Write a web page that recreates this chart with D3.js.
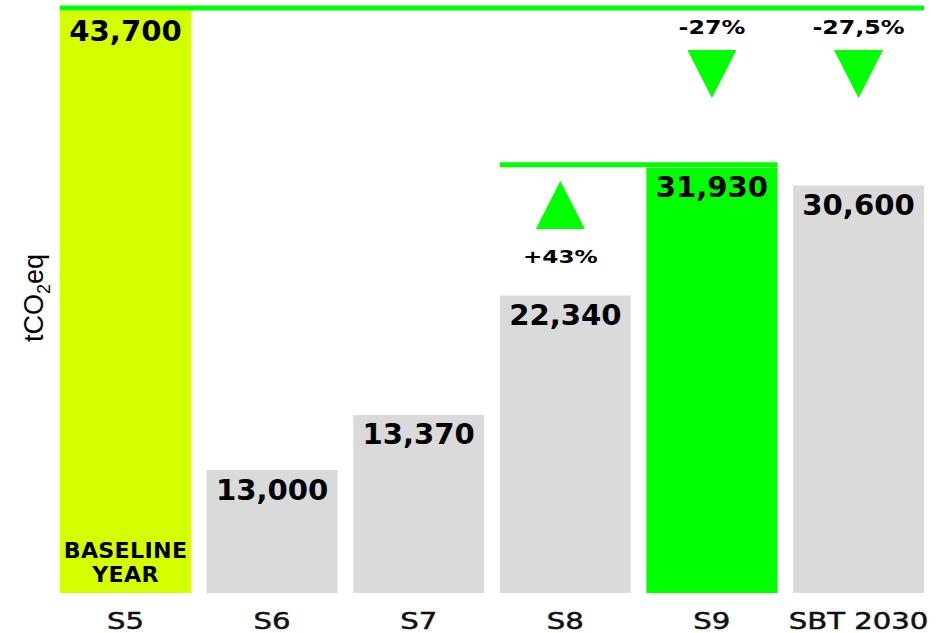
<!DOCTYPE html>
<html><head><meta charset="utf-8">
<script src="https://cdn.jsdelivr.net/npm/d3@7"></script>
<style>body{margin:0;background:#fff}svg{display:block}</style>
</head><body>
<svg id="c" width="947" height="633"></svg>
<script>
const categories = ["S5","S6","S7","S8","S9","SBT 2030"];
const barValues = [43700, 9230, 13370, 22340, 31930, 30600];
const valueLabels = ["43,700","13,000","13,370","22,340","31,930","30,600"];
const barColors = ["#d4ff00","#dadada","#dadada","#dadada","#00ff00","#dadada"];
const changeLabels = [
  {cat:"S8", text:"+43%", dir:"up"},
  {cat:"S9", text:"-27%", dir:"down"},
  {cat:"SBT 2030", text:"-27,5%", dir:"down"}
];
const refLines = [
  {from:"S5", to:"SBT 2030", value:43700},
  {from:"S8", to:"S9", value:31930}
];

const svg = d3.select("#c");
const x = d3.scaleBand().domain(categories).range([60, 924]).paddingInner(0.1064).paddingOuter(0);
const y = d3.scaleLinear().domain([0, 43700]).range([593, 11]);
const green = "#00ff00";
const font = "'DejaVu Sans', sans-serif";

// bars
svg.selectAll("rect.bar").data(categories).join("rect")
  .attr("x", d => x(d)).attr("width", x.bandwidth())
  .attr("y", (d,i) => y(barValues[i])).attr("height", (d,i) => y(0) - y(barValues[i]))
  .attr("fill", (d,i) => barColors[i]);

// reference lines
refLines.forEach(r => {
  svg.append("rect")
    .attr("x", x(r.from)).attr("width", x(r.to) + x.bandwidth() - x(r.from))
    .attr("y", y(r.value) - 5.5).attr("height", 5).attr("fill", green);
});

// value labels
svg.selectAll("text.val").data(categories).join("text")
  .attr("transform", (d,i) => `translate(${x(d) + x.bandwidth()/2},${y(barValues[i]) + 29.5}) scale(1.04,1)`)
  .attr("text-anchor","middle")
  .attr("font-family", font).attr("font-weight","bold").attr("font-size", 28)
  .attr("fill","#000")
  .text((d,i) => valueLabels[i]);

// baseline label
const bx = x("S5") + x.bandwidth()/2;
["BASELINE","YEAR"].forEach((t,i) => {
  svg.append("text").attr("transform", `translate(${bx},${558 + i*24}) scale(1.08,1)`)
    .attr("text-anchor","middle").attr("font-family", font).attr("font-weight","bold")
    .attr("font-size", 20.5).attr("letter-spacing", 0.3).text(t);
});

// category labels
categories.forEach(c => {
  svg.append("text")
    .attr("transform", `translate(${x(c) + x.bandwidth()/2},629) scale(1.24,1)`)
    .attr("text-anchor","middle").attr("font-family", font)
    .attr("font-size", 23.5).attr("fill","#111")
    .attr("stroke","#111").attr("stroke-width", 0.5)
    .text(c);
});

// change indicators
changeLabels.forEach(c => {
  const cx = x(c.cat) + x.bandwidth()/2 + (c.dir === "up" ? -5 : 0);
  if (c.dir === "up") {
    svg.append("path").attr("d", `M${cx},181 L${cx+24.5},229 L${cx-24.5},229 Z`).attr("fill", green);
    svg.append("text").attr("transform", `translate(${cx},263) scale(1.25,1)`).attr("text-anchor","middle")
      .attr("font-family", font).attr("font-weight","bold").attr("font-size", 18.5).text(c.text);
  } else {
    svg.append("path").attr("d", `M${cx-24.5},50 L${cx+24.5},50 L${cx},98 Z`).attr("fill", green);
    svg.append("text").attr("transform", `translate(${cx},34) scale(1.25,1)`).attr("text-anchor","middle")
      .attr("font-family", font).attr("font-weight","bold").attr("font-size", 19).text(c.text);
  }
});

// y axis title
const yt = svg.append("text")
  .attr("transform","translate(43,298) rotate(-90)")
  .attr("text-anchor","middle")
  .attr("font-family","'Liberation Sans', Arial, sans-serif").attr("font-size", 27).attr("fill","#000");
yt.append("tspan").text("tCO");
yt.append("tspan").attr("font-size", 18).attr("dy", 7).text("2");
yt.append("tspan").attr("dy", -7).text("eq");
</script>
</body></html>
